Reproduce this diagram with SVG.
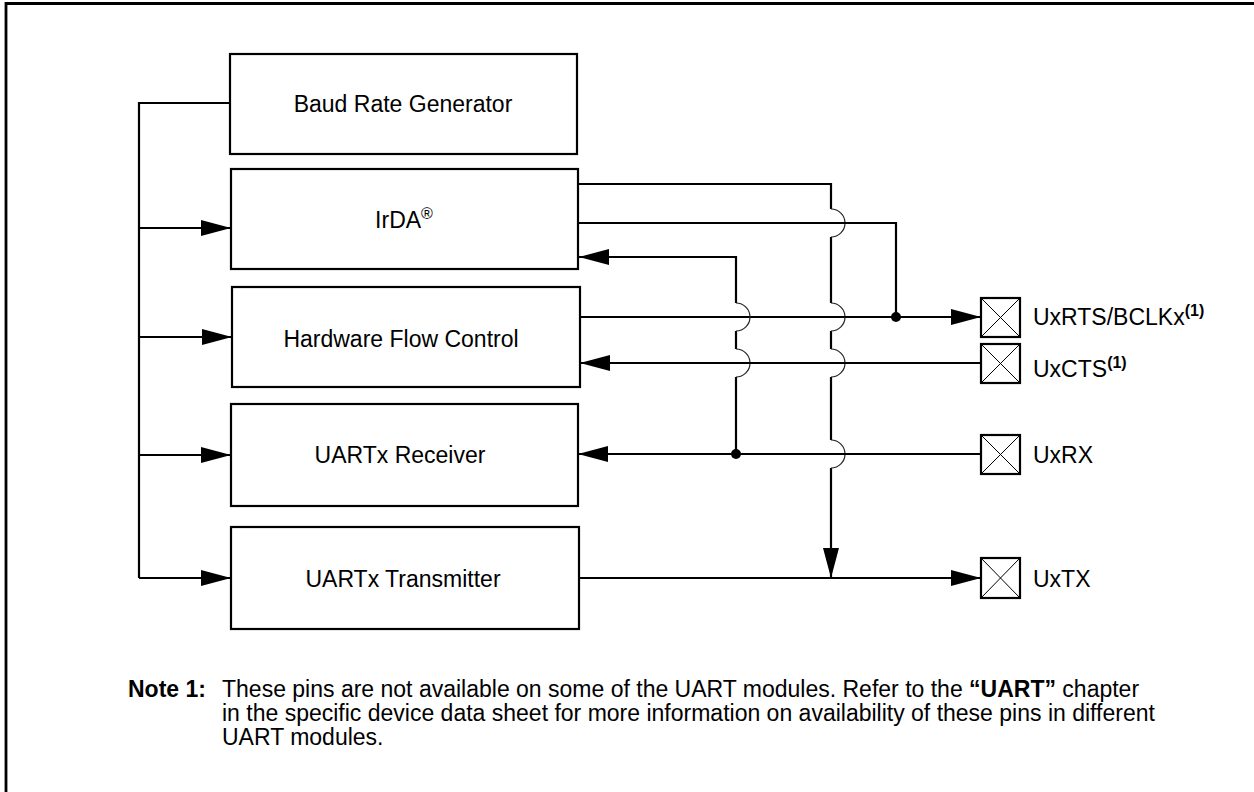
<svg xmlns="http://www.w3.org/2000/svg" width="1254" height="792" viewBox="0 0 1254 792">
  <style>
    .box { fill: #fff; stroke: #000; stroke-width: 2.2; }
    .lbl { font-family: "Liberation Sans", Arial, sans-serif; font-size: 23px; fill: #000; }
    .note { font-family: "Liberation Sans", Arial, sans-serif; font-size: 23px; fill: #000; }
    .wire { fill: none; stroke: #000; stroke-width: 2.2; }
    .hop { fill: none; stroke: #222; stroke-width: 1.2; }
    .pin { fill: #fff; stroke: #000; stroke-width: 2.2; }
    .pinx { stroke: #000; stroke-width: 1; }
    .arr { marker-end: url(#ah); }
  </style>
  <defs>
    <marker id="ah" markerUnits="userSpaceOnUse" markerWidth="30" markerHeight="18" refX="30" refY="9" orient="auto">
      <path d="M0,1 L30,9 L0,17 Z" fill="#000"/>
    </marker>
  </defs>

  <!-- frame -->
  <path d="M6,792 V3.5 H1254" fill="none" stroke="#000" stroke-width="2.8"/>

  <!-- function blocks -->
  <g id="baud">
    <rect class="box" x="230" y="54" width="347" height="100"/>
    <text class="lbl" x="403" y="112" text-anchor="middle">Baud Rate Generator</text>
  </g>
  <g id="irda">
    <rect class="box" x="231" y="169" width="347" height="100"/>
    <text class="lbl" x="404" y="228" text-anchor="middle">IrDA<tspan font-size="16" dy="-9">®</tspan></text>
  </g>
  <g id="hfc">
    <rect class="box" x="232" y="287" width="348" height="100"/>
    <text class="lbl" x="401" y="347" text-anchor="middle">Hardware Flow Control</text>
  </g>
  <g id="rx">
    <rect class="box" x="231" y="404" width="347" height="102"/>
    <text class="lbl" x="400" y="463" text-anchor="middle">UARTx Receiver</text>
  </g>
  <g id="tx">
    <rect class="box" x="231" y="527" width="348" height="102"/>
    <text class="lbl" x="403" y="587" text-anchor="middle">UARTx Transmitter</text>
  </g>

  <!-- pins -->
  <g id="pin-rts">
    <rect class="pin" x="981" y="298" width="39" height="39"/>
    <path class="pinx" d="M981,298 L1020,337 M1020,298 L981,337"/>
    <text class="lbl" x="1033" y="325">UxRTS/BCLKx<tspan font-size="16" font-weight="bold" dy="-9">(1)</tspan></text>
  </g>
  <g id="pin-cts">
    <rect class="pin" x="981" y="344" width="39" height="39"/>
    <path class="pinx" d="M981,344 L1020,383 M1020,344 L981,383"/>
    <text class="lbl" x="1033" y="377">UxCTS<tspan font-size="16" font-weight="bold" dy="-9">(1)</tspan></text>
  </g>
  <g id="pin-rx">
    <rect class="pin" x="981" y="435" width="39" height="39"/>
    <path class="pinx" d="M981,435 L1020,474 M1020,435 L981,474"/>
    <text class="lbl" x="1033" y="463">UxRX</text>
  </g>
  <g id="pin-tx">
    <rect class="pin" x="981" y="558" width="39" height="40"/>
    <path class="pinx" d="M981,558 L1020,598 M1020,558 L981,598"/>
    <text class="lbl" x="1033" y="587">UxTX</text>
  </g>

  <!-- connectors -->
  <g id="connectors">
    <!-- clock bus -->
    <path class="wire" d="M230,103 H139 V578"/>
    <path class="wire arr" d="M139,228 H231"/>
    <path class="wire arr" d="M139,337 H232"/>
    <path class="wire arr" d="M139,455 H231"/>
    <path class="wire arr" d="M139,578 H231"/>

    <!-- IrDA TX output down to UxTX -->
    <path class="wire" d="M578,184 H831 V209 M831,237 V303 M831,331 V349 M831,377 V440"/>
    <path class="wire arr" d="M831,468 V578"/>
    <path class="hop" d="M831,209 A14,14 0 0 1 831,237 M831,303 A14,14 0 0 1 831,331 M831,349 A14,14 0 0 1 831,377 M831,440 A14,14 0 0 1 831,468"/>

    <!-- IrDA BCLK output -->
    <path class="wire" d="M578,223 H896 V317"/>
    <circle cx="896" cy="317" r="5" fill="#000"/>

    <!-- RTS output -->
    <path class="wire arr" d="M580,317 H981"/>

    <!-- IrDA input from UxRX -->
    <path class="wire" d="M736,454 V377 M736,349 V331"/>
    <path class="wire arr" d="M736,303 V257 H579"/>
    <path class="hop" d="M736,303 A14,14 0 0 1 736,331 M736,349 A14,14 0 0 1 736,377"/>

    <!-- CTS input -->
    <path class="wire arr" d="M981,363 H580"/>

    <!-- RX input -->
    <path class="wire arr" d="M981,454 H578"/>
    <circle cx="736" cy="454" r="5" fill="#000"/>

    <!-- TX output -->
    <path class="wire arr" d="M579,578 H981"/>
  </g>

  <!-- footnote -->
  <g id="footnote">
    <text class="note" x="128" y="697" font-weight="bold">Note 1:</text>
    <text class="note" x="222" y="697">These pins are not available on some of the UART modules. Refer to the <tspan font-weight="bold">“UART”</tspan> chapter</text>
    <text class="note" x="222" y="721">in the specific device data sheet for more information on availability of these pins in different</text>
    <text class="note" x="222" y="745">UART modules.</text>
  </g>
</svg>
